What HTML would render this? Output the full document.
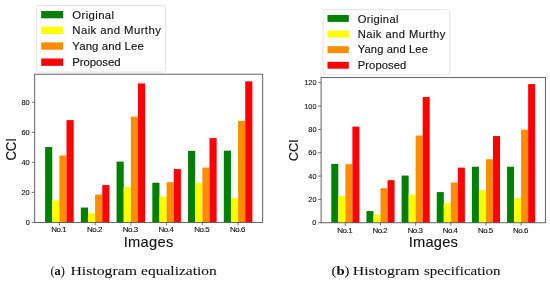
<!DOCTYPE html>
<html><head><meta charset="utf-8"><title>Figure</title>
<style>html,body{margin:0;padding:0;background:#fff;}svg{display:block;will-change:transform;opacity:0.999;}</style>
</head><body>
<svg width="550" height="284" viewBox="0 0 550 284">
<rect width="550" height="284" fill="#ffffff"/>
<rect x="45.10" y="147.08" width="7.15" height="75.32" fill="#008000"/>
<rect x="52.25" y="200.39" width="7.15" height="22.01" fill="#ffff00"/>
<rect x="59.40" y="155.46" width="7.15" height="66.94" fill="#ff8c00"/>
<rect x="66.54" y="120.12" width="7.15" height="102.28" fill="#ff0000"/>
<rect x="80.84" y="207.57" width="7.15" height="14.83" fill="#008000"/>
<rect x="87.99" y="213.41" width="7.15" height="8.99" fill="#ffff00"/>
<rect x="95.14" y="194.55" width="7.15" height="27.85" fill="#ff8c00"/>
<rect x="102.28" y="185.11" width="7.15" height="37.29" fill="#ff0000"/>
<rect x="116.58" y="161.60" width="7.15" height="60.80" fill="#008000"/>
<rect x="123.73" y="187.06" width="7.15" height="35.34" fill="#ffff00"/>
<rect x="130.88" y="116.68" width="7.15" height="105.72" fill="#ff8c00"/>
<rect x="138.02" y="83.42" width="7.15" height="138.98" fill="#ff0000"/>
<rect x="152.32" y="182.72" width="7.15" height="39.68" fill="#008000"/>
<rect x="159.47" y="196.64" width="7.15" height="25.76" fill="#ffff00"/>
<rect x="166.62" y="182.12" width="7.15" height="40.28" fill="#ff8c00"/>
<rect x="173.76" y="169.09" width="7.15" height="53.31" fill="#ff0000"/>
<rect x="188.06" y="150.82" width="7.15" height="71.58" fill="#008000"/>
<rect x="195.21" y="183.17" width="7.15" height="39.23" fill="#ffff00"/>
<rect x="202.36" y="167.59" width="7.15" height="54.81" fill="#ff8c00"/>
<rect x="209.50" y="138.09" width="7.15" height="84.31" fill="#ff0000"/>
<rect x="223.80" y="150.67" width="7.15" height="71.73" fill="#008000"/>
<rect x="230.95" y="198.14" width="7.15" height="24.26" fill="#ffff00"/>
<rect x="238.10" y="120.87" width="7.15" height="101.53" fill="#ff8c00"/>
<rect x="245.24" y="81.34" width="7.15" height="141.06" fill="#ff0000"/>
<rect x="34.70" y="74.20" width="228.00" height="148.20" fill="none" stroke="#505050" stroke-width="0.9"/>
<line x1="59.40" y1="222.40" x2="59.40" y2="225.30" stroke="#505050" stroke-width="0.8"/>
<text transform="translate(51.35,231.90) scale(1.08,1)" font-family='"Liberation Sans", sans-serif' font-size="7.4" fill="#111111" stroke="#111111" stroke-width="0.12" textLength="14.17" lengthAdjust="spacing">No.1</text>
<line x1="95.14" y1="222.40" x2="95.14" y2="225.30" stroke="#505050" stroke-width="0.8"/>
<text transform="translate(87.09,231.90) scale(1.08,1)" font-family='"Liberation Sans", sans-serif' font-size="7.4" fill="#111111" stroke="#111111" stroke-width="0.12" textLength="14.17" lengthAdjust="spacing">No.2</text>
<line x1="130.88" y1="222.40" x2="130.88" y2="225.30" stroke="#505050" stroke-width="0.8"/>
<text transform="translate(122.83,231.90) scale(1.08,1)" font-family='"Liberation Sans", sans-serif' font-size="7.4" fill="#111111" stroke="#111111" stroke-width="0.12" textLength="14.17" lengthAdjust="spacing">No.3</text>
<line x1="166.62" y1="222.40" x2="166.62" y2="225.30" stroke="#505050" stroke-width="0.8"/>
<text transform="translate(158.57,231.90) scale(1.08,1)" font-family='"Liberation Sans", sans-serif' font-size="7.4" fill="#111111" stroke="#111111" stroke-width="0.12" textLength="14.17" lengthAdjust="spacing">No.4</text>
<line x1="202.36" y1="222.40" x2="202.36" y2="225.30" stroke="#505050" stroke-width="0.8"/>
<text transform="translate(194.31,231.90) scale(1.08,1)" font-family='"Liberation Sans", sans-serif' font-size="7.4" fill="#111111" stroke="#111111" stroke-width="0.12" textLength="14.17" lengthAdjust="spacing">No.5</text>
<line x1="238.10" y1="222.40" x2="238.10" y2="225.30" stroke="#505050" stroke-width="0.8"/>
<text transform="translate(230.05,231.90) scale(1.08,1)" font-family='"Liberation Sans", sans-serif' font-size="7.4" fill="#111111" stroke="#111111" stroke-width="0.12" textLength="14.17" lengthAdjust="spacing">No.6</text>
<line x1="31.80" y1="222.40" x2="34.70" y2="222.40" stroke="#505050" stroke-width="0.8"/>
<text transform="translate(25.67,225.10) scale(1.0,1)" font-family='"Liberation Sans", sans-serif' font-size="7.4" fill="#111111" stroke="#111111" stroke-width="0.12" textLength="4.08" lengthAdjust="spacing">0</text>
<line x1="31.80" y1="192.37" x2="34.70" y2="192.37" stroke="#505050" stroke-width="0.8"/>
<text transform="translate(21.59,195.07) scale(1.0,1)" font-family='"Liberation Sans", sans-serif' font-size="7.4" fill="#111111" stroke="#111111" stroke-width="0.12" textLength="8.16" lengthAdjust="spacing">20</text>
<line x1="31.80" y1="162.35" x2="34.70" y2="162.35" stroke="#505050" stroke-width="0.8"/>
<text transform="translate(21.59,165.05) scale(1.0,1)" font-family='"Liberation Sans", sans-serif' font-size="7.4" fill="#111111" stroke="#111111" stroke-width="0.12" textLength="8.16" lengthAdjust="spacing">40</text>
<line x1="31.80" y1="132.32" x2="34.70" y2="132.32" stroke="#505050" stroke-width="0.8"/>
<text transform="translate(21.59,135.02) scale(1.0,1)" font-family='"Liberation Sans", sans-serif' font-size="7.4" fill="#111111" stroke="#111111" stroke-width="0.12" textLength="8.16" lengthAdjust="spacing">60</text>
<line x1="31.80" y1="102.30" x2="34.70" y2="102.30" stroke="#505050" stroke-width="0.8"/>
<text transform="translate(21.59,105.00) scale(1.0,1)" font-family='"Liberation Sans", sans-serif' font-size="7.4" fill="#111111" stroke="#111111" stroke-width="0.12" textLength="8.16" lengthAdjust="spacing">80</text>
<rect x="36.70" y="5.60" width="129.00" height="66.50" rx="2" ry="2" fill="#ffffff" fill-opacity="0.8" stroke="#e0e0e0" stroke-width="0.9"/>
<rect x="41.20" y="11.00" width="22.00" height="7.30" fill="#008000"/>
<text transform="translate(72.30,18.70) scale(1.12,1)" font-family='"Liberation Sans", sans-serif' font-size="10.2" fill="#111111" stroke="#111111" stroke-width="0.12" textLength="37.32" lengthAdjust="spacing">Original</text>
<rect x="41.20" y="26.70" width="22.00" height="7.30" fill="#ffff00"/>
<text transform="translate(72.30,34.20) scale(1.12,1)" font-family='"Liberation Sans", sans-serif' font-size="10.2" fill="#111111" stroke="#111111" stroke-width="0.12" textLength="79.11" lengthAdjust="spacing">Naik and Murthy</text>
<rect x="41.20" y="42.40" width="22.00" height="7.30" fill="#ff8c00"/>
<text transform="translate(72.30,49.90) scale(1.12,1)" font-family='"Liberation Sans", sans-serif' font-size="10.2" fill="#111111" stroke="#111111" stroke-width="0.12" textLength="63.84" lengthAdjust="spacing">Yang and Lee</text>
<rect x="41.20" y="58.50" width="22.00" height="7.30" fill="#ff0000"/>
<text transform="translate(72.30,65.70) scale(1.12,1)" font-family='"Liberation Sans", sans-serif' font-size="10.2" fill="#111111" stroke="#111111" stroke-width="0.12" textLength="43.04" lengthAdjust="spacing">Proposed</text>
<text transform="translate(16.35,160.60) rotate(-90) scale(0.95,1)" font-family='"Liberation Sans", sans-serif' font-size="14" fill="#111111" stroke="#111111" stroke-width="0.12" textLength="23.79" lengthAdjust="spacing">CCI</text>
<text transform="translate(123.70,247.00) scale(1.05,1)" font-family='"Liberation Sans", sans-serif' font-size="14" fill="#111111" stroke="#111111" stroke-width="0.12" textLength="47.24" lengthAdjust="spacing">Images</text>
<text x="50.40" y="275.0" font-family='"Liberation Serif", serif' font-size="13.3" fill="#111" stroke="#111" stroke-width="0.08" textLength="14.40" lengthAdjust="spacingAndGlyphs">(<tspan font-weight="bold">a</tspan>)</text>
<text x="70.40" y="275.0" font-family='"Liberation Serif", serif' font-size="13.3" fill="#111" stroke="#111" stroke-width="0.08" textLength="66.50" lengthAdjust="spacingAndGlyphs">Histogram</text>
<text x="141.10" y="275.0" font-family='"Liberation Serif", serif' font-size="13.3" fill="#111" stroke="#111" stroke-width="0.08" textLength="75.70" lengthAdjust="spacingAndGlyphs">equalization</text>
<rect x="331.30" y="163.90" width="7.03" height="58.85" fill="#008000"/>
<rect x="338.33" y="195.94" width="7.03" height="26.81" fill="#ffff00"/>
<rect x="345.36" y="164.14" width="7.03" height="58.61" fill="#ff8c00"/>
<rect x="352.39" y="126.62" width="7.03" height="96.13" fill="#ff0000"/>
<rect x="366.45" y="211.08" width="7.03" height="11.67" fill="#008000"/>
<rect x="373.48" y="214.70" width="7.03" height="8.05" fill="#ffff00"/>
<rect x="380.51" y="188.25" width="7.03" height="34.50" fill="#ff8c00"/>
<rect x="387.54" y="180.21" width="7.03" height="42.54" fill="#ff0000"/>
<rect x="401.60" y="175.55" width="7.03" height="47.20" fill="#008000"/>
<rect x="408.63" y="194.66" width="7.03" height="28.09" fill="#ffff00"/>
<rect x="415.66" y="135.59" width="7.03" height="87.16" fill="#ff8c00"/>
<rect x="422.69" y="97.03" width="7.03" height="125.72" fill="#ff0000"/>
<rect x="436.75" y="192.09" width="7.03" height="30.66" fill="#008000"/>
<rect x="443.78" y="203.17" width="7.03" height="19.58" fill="#ffff00"/>
<rect x="450.81" y="182.54" width="7.03" height="40.21" fill="#ff8c00"/>
<rect x="457.84" y="167.63" width="7.03" height="55.12" fill="#ff0000"/>
<rect x="471.90" y="166.73" width="7.03" height="56.02" fill="#008000"/>
<rect x="478.93" y="190.12" width="7.03" height="32.63" fill="#ffff00"/>
<rect x="485.96" y="159.24" width="7.03" height="63.51" fill="#ff8c00"/>
<rect x="492.99" y="136.06" width="7.03" height="86.69" fill="#ff0000"/>
<rect x="507.05" y="166.73" width="7.03" height="56.02" fill="#008000"/>
<rect x="514.08" y="198.15" width="7.03" height="24.60" fill="#ffff00"/>
<rect x="521.11" y="129.65" width="7.03" height="93.10" fill="#ff8c00"/>
<rect x="528.14" y="84.10" width="7.03" height="138.65" fill="#ff0000"/>
<rect x="321.10" y="77.60" width="224.30" height="145.15" fill="none" stroke="#505050" stroke-width="0.9"/>
<line x1="345.36" y1="222.75" x2="345.36" y2="225.65" stroke="#505050" stroke-width="0.8"/>
<text transform="translate(337.36,232.50) scale(1.08,1)" font-family='"Liberation Sans", sans-serif' font-size="7.3" fill="#111111" stroke="#111111" stroke-width="0.12" textLength="14.07" lengthAdjust="spacing">No.1</text>
<line x1="380.51" y1="222.75" x2="380.51" y2="225.65" stroke="#505050" stroke-width="0.8"/>
<text transform="translate(372.51,232.50) scale(1.08,1)" font-family='"Liberation Sans", sans-serif' font-size="7.3" fill="#111111" stroke="#111111" stroke-width="0.12" textLength="14.07" lengthAdjust="spacing">No.2</text>
<line x1="415.66" y1="222.75" x2="415.66" y2="225.65" stroke="#505050" stroke-width="0.8"/>
<text transform="translate(407.66,232.50) scale(1.08,1)" font-family='"Liberation Sans", sans-serif' font-size="7.3" fill="#111111" stroke="#111111" stroke-width="0.12" textLength="14.07" lengthAdjust="spacing">No.3</text>
<line x1="450.81" y1="222.75" x2="450.81" y2="225.65" stroke="#505050" stroke-width="0.8"/>
<text transform="translate(442.81,232.50) scale(1.08,1)" font-family='"Liberation Sans", sans-serif' font-size="7.3" fill="#111111" stroke="#111111" stroke-width="0.12" textLength="14.07" lengthAdjust="spacing">No.4</text>
<line x1="485.96" y1="222.75" x2="485.96" y2="225.65" stroke="#505050" stroke-width="0.8"/>
<text transform="translate(477.96,232.50) scale(1.08,1)" font-family='"Liberation Sans", sans-serif' font-size="7.3" fill="#111111" stroke="#111111" stroke-width="0.12" textLength="14.07" lengthAdjust="spacing">No.5</text>
<line x1="521.11" y1="222.75" x2="521.11" y2="225.65" stroke="#505050" stroke-width="0.8"/>
<text transform="translate(513.11,232.50) scale(1.08,1)" font-family='"Liberation Sans", sans-serif' font-size="7.3" fill="#111111" stroke="#111111" stroke-width="0.12" textLength="14.07" lengthAdjust="spacing">No.6</text>
<line x1="318.20" y1="222.75" x2="321.10" y2="222.75" stroke="#505050" stroke-width="0.8"/>
<text transform="translate(312.37,225.45) scale(1.0,1)" font-family='"Liberation Sans", sans-serif' font-size="7.3" fill="#111111" stroke="#111111" stroke-width="0.12" textLength="4.08" lengthAdjust="spacing">0</text>
<line x1="318.20" y1="199.41" x2="321.10" y2="199.41" stroke="#505050" stroke-width="0.8"/>
<text transform="translate(308.29,202.11) scale(1.0,1)" font-family='"Liberation Sans", sans-serif' font-size="7.3" fill="#111111" stroke="#111111" stroke-width="0.12" textLength="8.16" lengthAdjust="spacing">20</text>
<line x1="318.20" y1="176.07" x2="321.10" y2="176.07" stroke="#505050" stroke-width="0.8"/>
<text transform="translate(308.29,178.77) scale(1.0,1)" font-family='"Liberation Sans", sans-serif' font-size="7.3" fill="#111111" stroke="#111111" stroke-width="0.12" textLength="8.16" lengthAdjust="spacing">40</text>
<line x1="318.20" y1="152.72" x2="321.10" y2="152.72" stroke="#505050" stroke-width="0.8"/>
<text transform="translate(308.29,155.42) scale(1.0,1)" font-family='"Liberation Sans", sans-serif' font-size="7.3" fill="#111111" stroke="#111111" stroke-width="0.12" textLength="8.16" lengthAdjust="spacing">60</text>
<line x1="318.20" y1="129.38" x2="321.10" y2="129.38" stroke="#505050" stroke-width="0.8"/>
<text transform="translate(308.29,132.08) scale(1.0,1)" font-family='"Liberation Sans", sans-serif' font-size="7.3" fill="#111111" stroke="#111111" stroke-width="0.12" textLength="8.16" lengthAdjust="spacing">80</text>
<line x1="318.20" y1="106.04" x2="321.10" y2="106.04" stroke="#505050" stroke-width="0.8"/>
<text transform="translate(304.21,108.74) scale(1.0,1)" font-family='"Liberation Sans", sans-serif' font-size="7.3" fill="#111111" stroke="#111111" stroke-width="0.12" textLength="12.24" lengthAdjust="spacing">100</text>
<line x1="318.20" y1="82.70" x2="321.10" y2="82.70" stroke="#505050" stroke-width="0.8"/>
<text transform="translate(304.21,85.40) scale(1.0,1)" font-family='"Liberation Sans", sans-serif' font-size="7.3" fill="#111111" stroke="#111111" stroke-width="0.12" textLength="12.24" lengthAdjust="spacing">120</text>
<rect x="323.10" y="9.60" width="126.70" height="65.40" rx="2" ry="2" fill="#ffffff" fill-opacity="0.8" stroke="#e0e0e0" stroke-width="0.9"/>
<rect x="327.50" y="15.00" width="21.30" height="6.90" fill="#008000"/>
<text transform="translate(357.80,22.60) scale(1.12,1)" font-family='"Liberation Sans", sans-serif' font-size="10.0" fill="#111111" stroke="#111111" stroke-width="0.12" textLength="36.25" lengthAdjust="spacing">Original</text>
<rect x="327.50" y="30.60" width="21.30" height="6.90" fill="#ffff00"/>
<text transform="translate(357.80,37.90) scale(1.12,1)" font-family='"Liberation Sans", sans-serif' font-size="10.0" fill="#111111" stroke="#111111" stroke-width="0.12" textLength="78.12" lengthAdjust="spacing">Naik and Murthy</text>
<rect x="327.50" y="46.20" width="21.30" height="6.90" fill="#ff8c00"/>
<text transform="translate(357.80,53.40) scale(1.12,1)" font-family='"Liberation Sans", sans-serif' font-size="10.0" fill="#111111" stroke="#111111" stroke-width="0.12" textLength="62.59" lengthAdjust="spacing">Yang and Lee</text>
<rect x="327.50" y="61.80" width="21.30" height="6.90" fill="#ff0000"/>
<text transform="translate(357.80,69.00) scale(1.12,1)" font-family='"Liberation Sans", sans-serif' font-size="10.0" fill="#111111" stroke="#111111" stroke-width="0.12" textLength="43.21" lengthAdjust="spacing">Proposed</text>
<text transform="translate(298.35,161.20) rotate(-90) scale(0.95,1)" font-family='"Liberation Sans", sans-serif' font-size="13.6" fill="#111111" stroke="#111111" stroke-width="0.12" textLength="22.95" lengthAdjust="spacing">CCI</text>
<text transform="translate(408.70,247.00) scale(1.05,1)" font-family='"Liberation Sans", sans-serif' font-size="14" fill="#111111" stroke="#111111" stroke-width="0.12" textLength="46.86" lengthAdjust="spacing">Images</text>
<text x="331.50" y="275.0" font-family='"Liberation Serif", serif' font-size="13.3" fill="#111" stroke="#111" stroke-width="0.08" textLength="18.00" lengthAdjust="spacingAndGlyphs">(<tspan font-weight="bold">b</tspan>)</text>
<text x="352.70" y="275.0" font-family='"Liberation Serif", serif' font-size="13.3" fill="#111" stroke="#111" stroke-width="0.08" textLength="66.90" lengthAdjust="spacingAndGlyphs">Histogram</text>
<text x="424.00" y="275.0" font-family='"Liberation Serif", serif' font-size="13.3" fill="#111" stroke="#111" stroke-width="0.08" textLength="76.60" lengthAdjust="spacingAndGlyphs">specification</text>
</svg>
</body></html>
